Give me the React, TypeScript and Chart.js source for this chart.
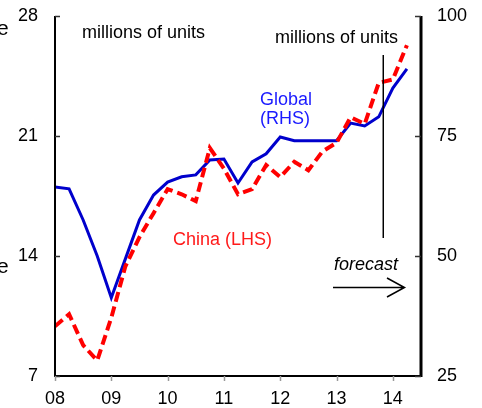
import { useEffect, useRef } from "react";
import { Chart, registerables } from "chart.js";

Chart.register(...registerables);

// Quarterly vehicle sales, millions of units
const quarters = [
  "2008Q1", "2008Q2", "2008Q3", "2008Q4",
  "2009Q1", "2009Q2", "2009Q3", "2009Q4",
  "2010Q1", "2010Q2", "2010Q3", "2010Q4",
  "2011Q1", "2011Q2", "2011Q3", "2011Q4",
  "2012Q1", "2012Q2", "2012Q3", "2012Q4",
  "2013Q1", "2013Q2", "2013Q3", "2013Q4",
  "2014Q1", "2014Q2",
];

// China, left-hand scale
const chinaSales = [
  9.9, 10.6, 8.8, 7.9,
  10.4, 13.4, 15.1, 16.5,
  17.9, 17.6, 17.2, 20.3,
  19.1, 17.6, 17.9, 19.3,
  18.6, 19.5, 19.0, 20.1,
  20.6, 22.1, 21.7, 24.1,
  24.3, 26.3,
];

// Global, right-hand scale
const globalSales = [
  64.4, 64.0, 57.5, 50.0,
  41.3, 49.4, 57.5, 62.7,
  65.4, 66.5, 66.9, 70.0,
  70.2, 65.2, 69.6, 71.3,
  74.8, 74.0, 74.0, 74.0,
  74.0, 77.7, 77.1, 79.0,
  85.0, 89.0,
];

const leftTicks = [7, 14, 21, 28];
const rightTicks = [25, 50, 75, 100];
const yearTicks = [2008, 2009, 2010, 2011, 2012, 2013, 2014];
const yearLabels = ["08", "09", "10", "11", "12", "13", "14"];

const FONT = "'Liberation Sans', Arial, sans-serif";

const quarterToX = (q: string) =>
  parseInt(q.slice(0, 4), 10) + (parseInt(q.slice(5), 10) - 1) / 4;

const frameAndNotes = {
  id: "frameAndNotes",
  afterDraw(chart: any) {
    const { ctx, chartArea, scales } = chart;
    const { left, right, top, bottom } = chartArea;
    ctx.save();

    // axis lines
    ctx.strokeStyle = "#000";
    ctx.lineWidth = 2;
    ctx.beginPath();
    ctx.moveTo(left, top);
    ctx.lineTo(left, bottom);
    ctx.lineTo(right, bottom);
    ctx.stroke();
    ctx.lineWidth = 3;
    ctx.beginPath();
    ctx.moveTo(right, top);
    ctx.lineTo(right, bottom + 1);
    ctx.stroke();

    // inward ticks on both value axes
    ctx.lineWidth = 1.5;
    ctx.strokeStyle = "#333";
    leftTicks.forEach((v) => {
      const y = Math.round(scales.y.getPixelForValue(v)) + 0.5;
      ctx.beginPath();
      ctx.moveTo(left, y);
      ctx.lineTo(left + 5, y);
      ctx.stroke();
    });
    rightTicks.forEach((v) => {
      const y = Math.round(scales.y1.getPixelForValue(v)) + 0.5;
      ctx.beginPath();
      ctx.moveTo(right - 6, y);
      ctx.lineTo(right, y);
      ctx.stroke();
    });
    // outward ticks on the time axis
    ctx.strokeStyle = "#999";
    yearTicks.forEach((v) => {
      const x = Math.round(scales.x.getPixelForValue(v)) + 0.5;
      ctx.beginPath();
      ctx.moveTo(x, bottom);
      ctx.lineTo(x, bottom + 5);
      ctx.stroke();
    });

    // labels
    ctx.textBaseline = "alphabetic";
    ctx.textAlign = "left";
    ctx.fillStyle = "#000";
    ctx.font = `18px ${FONT}`;
    ctx.fillText("millions of units", 82, 38);
    ctx.fillText("millions of units", 275, 43);

    ctx.font = `21px ${FONT}`;
    ctx.fillText("e", -3, 35);
    ctx.fillText("e", -3, 273);

    ctx.fillStyle = "#1a1aff";
    ctx.font = `18px ${FONT}`;
    ctx.fillText("Global", 260, 105);
    ctx.fillText("(RHS)", 260, 124);

    ctx.fillStyle = "#ff1a1a";
    ctx.fillText("China (LHS)", 173, 245);

    ctx.fillStyle = "#000";
    ctx.font = `italic 18px ${FONT}`;
    ctx.fillText("forecast", 334, 270);

    // forecast divider and arrow
    ctx.strokeStyle = "#000";
    ctx.lineWidth = 1.5;
    const fx = scales.x.getPixelForValue(2013.83);
    ctx.beginPath();
    ctx.moveTo(fx, 55);
    ctx.lineTo(fx, 238);
    ctx.stroke();

    ctx.beginPath();
    ctx.moveTo(333, 287.5);
    ctx.lineTo(404, 287.5);
    ctx.moveTo(387, 278);
    ctx.lineTo(404.5, 287.5);
    ctx.lineTo(387, 297);
    ctx.stroke();

    ctx.restore();
  },
};

const noEdgePadding = (s: any) => {
  s.paddingTop = 0;
  s.paddingBottom = 0;
};

export default function App() {
  const canvasRef = useRef<HTMLCanvasElement | null>(null);

  useEffect(() => {
    if (!canvasRef.current) return;
    const xs = quarters.map(quarterToX);
    const chart = new Chart(canvasRef.current, {
      type: "line",
      data: {
        datasets: [
          {
            label: "China (LHS)",
            data: xs.map((x, i) => ({ x, y: chinaSales[i] })),
            yAxisID: "y",
            borderColor: "#ff0000",
            borderWidth: 4,
            borderDash: [10, 5],
            pointRadius: 0,
            tension: 0,
            order: 0,
          },
          {
            label: "Global (RHS)",
            data: xs.map((x, i) => ({ x, y: globalSales[i] })),
            yAxisID: "y1",
            borderColor: "#0000cc",
            borderWidth: 3,
            pointRadius: 0,
            tension: 0,
            order: 1,
          },
        ],
      },
      options: {
        responsive: false,
        animation: false,
        layout: { padding: { top: 16 } },
        plugins: {
          legend: { display: false },
          tooltip: { enabled: false },
        },
        scales: {
          x: {
            type: "linear",
            min: 2008,
            max: 2014.5,
            grid: { display: false, drawTicks: false },
            border: { display: false },
            afterBuildTicks: (s: any) => {
              s.ticks = yearTicks.map((value) => ({ value }));
            },
            afterFit: (s: any) => {
              s.height = 32;
              s.paddingLeft = 0;
              s.paddingRight = 0;
            },
            ticks: {
              color: "#000",
              padding: 12,
              maxRotation: 0,
              autoSkip: false,
              font: { family: FONT, size: 18 },
              callback: (_v: any, i: number) => yearLabels[i],
            },
          },
          y: {
            position: "left",
            min: 7,
            max: 28,
            grid: { display: false, drawTicks: false },
            border: { display: false },
            afterBuildTicks: (s: any) => {
              s.ticks = leftTicks.map((value) => ({ value }));
            },
            afterFit: (s: any) => {
              s.width = 55;
              noEdgePadding(s);
            },
            ticks: {
              color: "#000",
              padding: 17,
              font: { family: FONT, size: 18 },
            },
          },
          y1: {
            position: "right",
            min: 25,
            max: 100,
            grid: { display: false, drawTicks: false },
            border: { display: false },
            afterBuildTicks: (s: any) => {
              s.ticks = rightTicks.map((value) => ({ value }));
            },
            afterFit: (s: any) => {
              s.width = 61;
              noEdgePadding(s);
            },
            ticks: {
              color: "#000",
              padding: 16,
              font: { family: FONT, size: 18 },
            },
          },
        },
      },
      plugins: [frameAndNotes],
    });
    return () => chart.destroy();
  }, []);

  return (
    <div style={{ position: "absolute", left: 0, top: 0, width: 482, height: 408 }}>
      <canvas ref={canvasRef} width={482} height={408} />
    </div>
  );
}
